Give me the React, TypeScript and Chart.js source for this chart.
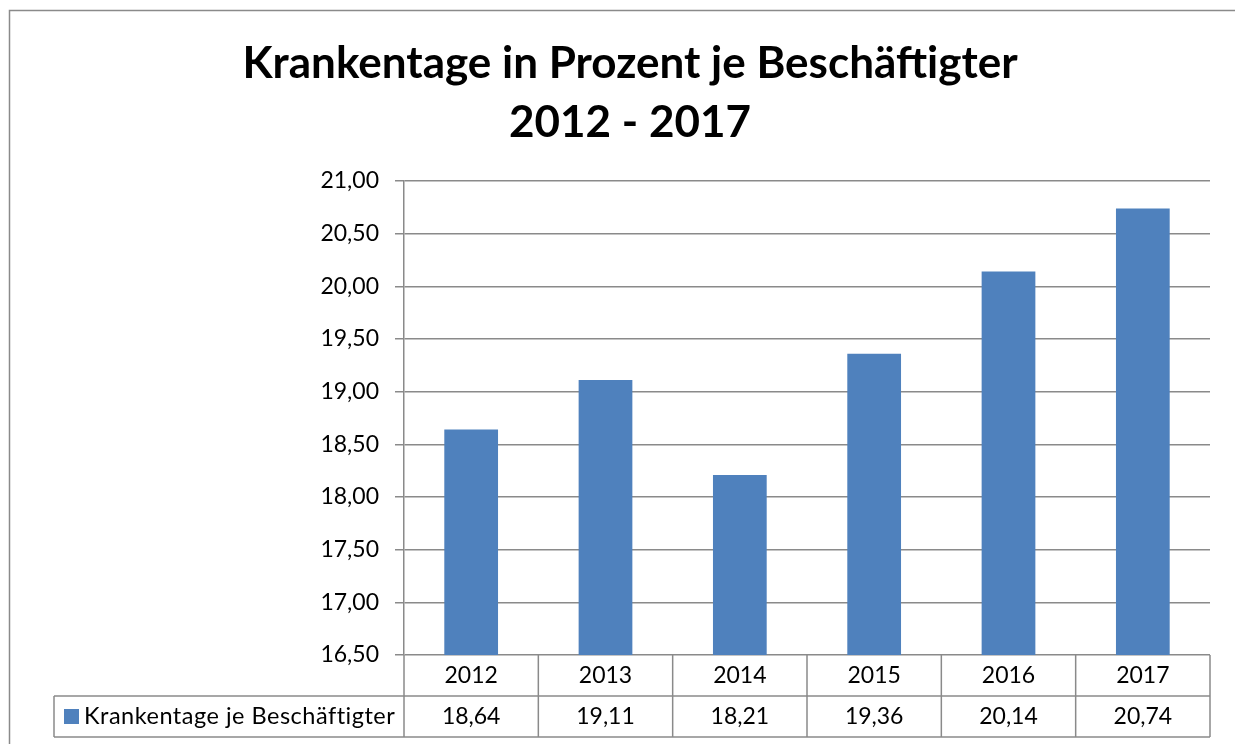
import React, { useEffect, useRef } from "react";
import { Chart, registerables } from "chart.js";

Chart.register(...registerables);

const titleLines = ["Krankentage in Prozent je Beschäftigter", "2012 - 2017"];
const years = ["2012", "2013", "2014", "2015", "2016", "2017"];
const seriesName = "Krankentage je Beschäftigter";
const values = [18.64, 19.11, 18.21, 19.36, 20.14, 20.74];
const yMin = 16.5;
const yMax = 21;
const yStep = 0.5;

const FONT = "Lato, 'Open Sans', sans-serif";
const BAR = "#4F81BD";
const LINE = "#8A8A8A";

const fmt = (v: number) => v.toFixed(2).replace(".", ",");

const tablePlugin = {
  id: "dataTable",
  beforeDraw(chart: any) {
    const ctx = chart.ctx;
    ctx.save();
    ctx.strokeStyle = LINE;
    ctx.lineWidth = 1.5;
    ctx.beginPath();
    ctx.moveTo(9.5, 744);
    ctx.lineTo(9.5, 10.5);
    ctx.lineTo(1235, 10.5);
    ctx.stroke();
    ctx.fillStyle = "#000";
    ctx.font = `bold 44px ${FONT}`;
    ctx.textAlign = "center";
    ctx.textBaseline = "middle";
    ctx.fillText(titleLines[0], 630, 64);
    ctx.fillText(titleLines[1], 630, 123);
    ctx.restore();
  },
  afterDraw(chart: any) {
    const ctx = chart.ctx;
    const area = chart.chartArea;
    const xs = chart.scales.x;
    const n = years.length;
    const cw = (area.right - area.left) / n;
    const rowTop = area.bottom;
    const rowMid = rowTop + 41;
    const rowBot = rowTop + 82;
    const legLeft = 54;
    ctx.save();
    ctx.strokeStyle = LINE;
    ctx.lineWidth = 1.5;
    ctx.beginPath();
    for (let k = 0; k <= n; k++) {
      const x = area.left + k * cw;
      ctx.moveTo(x, rowTop);
      ctx.lineTo(x, rowBot);
    }
    ctx.moveTo(legLeft, rowMid);
    ctx.lineTo(area.right, rowMid);
    ctx.moveTo(legLeft, rowBot);
    ctx.lineTo(area.right, rowBot);
    ctx.moveTo(legLeft, rowMid);
    ctx.lineTo(legLeft, rowBot);
    ctx.stroke();

    const cy = (rowMid + rowBot) / 2;
    ctx.fillStyle = BAR;
    ctx.fillRect(legLeft + 10, cy - 7.5, 15, 15);
    ctx.fillStyle = "#000";
    ctx.font = `23.5px ${FONT}`;
    ctx.textBaseline = "middle";
    ctx.textAlign = "left";
    (ctx as any).letterSpacing = "0.5px";
    ctx.fillText(seriesName, legLeft + 30, cy);
    (ctx as any).letterSpacing = "0px";
    ctx.font = `23px ${FONT}`;
    ctx.textAlign = "center";
    values.forEach((v, i) => {
      ctx.fillText(fmt(v), xs.getPixelForValue(i), cy);
    });
    ctx.restore();
  },
};

export default function App() {
  const ref = useRef<HTMLCanvasElement | null>(null);
  useEffect(() => {
    document.body.style.margin = "0";
    const canvas = ref.current;
    if (!canvas) return;
    const chart = new Chart(canvas, {
      type: "bar",
      data: {
        labels: years,
        datasets: [
          {
            label: seriesName,
            data: values,
            backgroundColor: BAR,
            barPercentage: 0.4,
            categoryPercentage: 1,
          },
        ],
      },
      options: {
        responsive: false,
        animation: false,
        layout: { padding: { left: 0, right: 25, top: 181, bottom: 7 } },
        plugins: {
          legend: { display: false },
          tooltip: { enabled: false },
          title: { display: false },
        },
        scales: {
          x: {
            grid: { display: false },
            border: { display: false },
            ticks: {
              color: "#000",
              font: { family: FONT, size: 23 },
              padding: -1,
            },
            afterFit: (s: any) => {
              s.height = 82;
            },
          },
          y: {
            min: yMin,
            max: yMax,
            ticks: {
              stepSize: yStep,
              color: "#000",
              font: { family: FONT, size: 23 },
              padding: 16,
              callback: (v: any) => fmt(Number(v)),
            },
            grid: { color: LINE, lineWidth: 1.5, tickLength: 9 },
            border: { color: LINE, width: 1.5 },
            afterFit: (s: any) => {
              s.width = 404;
            },
          },
        },
      },
      plugins: [tablePlugin],
    });
    return () => chart.destroy();
  }, []);
  return (
    <div style={{ width: 1235, height: 744, background: "#fff" }}>
      <canvas ref={ref} width={1235} height={744} />
    </div>
  );
}
